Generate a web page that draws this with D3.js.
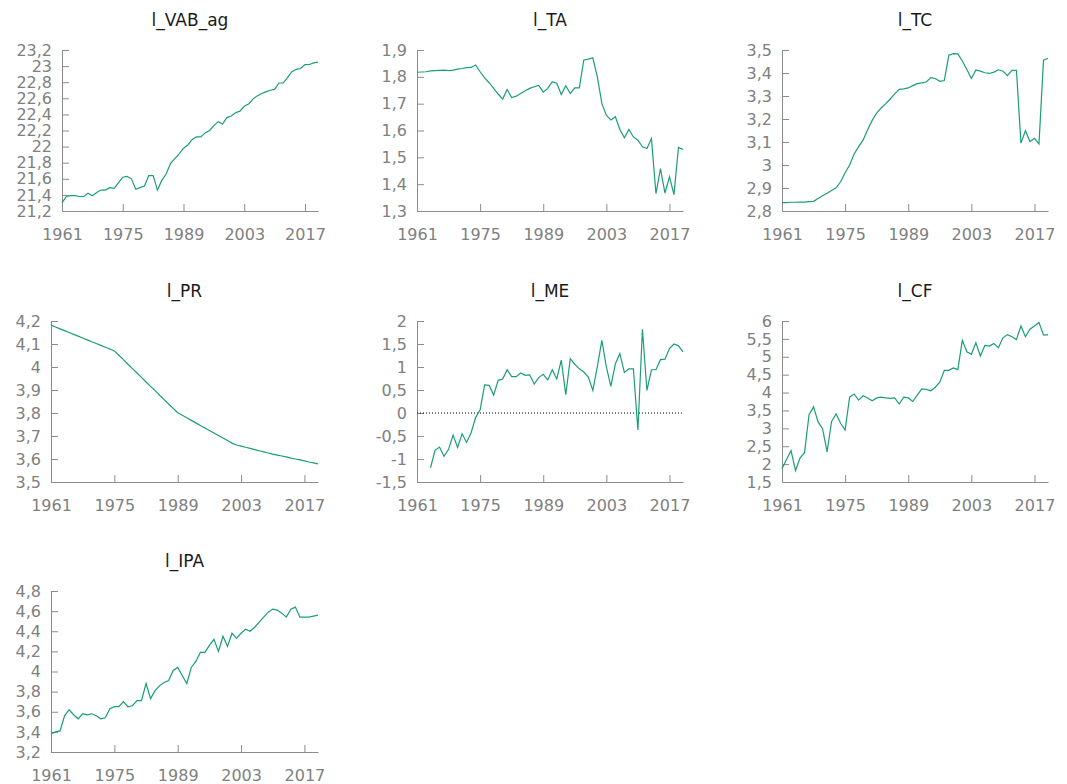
<!DOCTYPE html>
<html>
<head>
<meta charset="utf-8">
<script src="https://cdn.jsdelivr.net/npm/d3@7"></script>
<style>
    body { margin: 0; background: #fff; }
    svg { display: block; }
    svg text { font-family: "DejaVu Sans", sans-serif; }
    .tick text { fill: #808080; font-size: 16px; }
    .domain, .tick line { stroke: #8c8c8c; }
    .title { font-size: 17px; fill: #1a1a1a; }
</style>
</head>
<body>
<svg id="chart" width="1067" height="784"></svg>
<script>
// Years
const firstYear = 1961;
const lastYear = 2020;
const xTicks = [1961, 1975, 1989, 2003, 2017];

// Series (one value per year, 1961-2020)
const vabAg = [21.30, 21.38, 21.39, 21.39, 21.38, 21.38, 21.42, 21.39, 21.43, 21.46,
    21.46, 21.49, 21.48, 21.55, 21.62, 21.63, 21.60, 21.47, 21.49, 21.51,
    21.64, 21.64, 21.46, 21.58, 21.66, 21.79, 21.85, 21.91, 21.98, 22.02,
    22.09, 22.12, 22.12, 22.17, 22.20, 22.26, 22.31, 22.28, 22.36, 22.38,
    22.42, 22.44, 22.50, 22.53, 22.59, 22.63, 22.66, 22.68, 22.70, 22.71,
    22.79, 22.79, 22.86, 22.93, 22.96, 22.97, 23.02, 23.02, 23.04, 23.05];

const ta = [1.817, 1.818, 1.819, 1.822, 1.823, 1.824, 1.825, 1.823, 1.825, 1.829,
    1.831, 1.834, 1.835, 1.844, 1.819, 1.796, 1.778, 1.757, 1.736, 1.717,
    1.753, 1.723, 1.728, 1.738, 1.748, 1.757, 1.763, 1.768, 1.743, 1.757,
    1.782, 1.776, 1.734, 1.767, 1.738, 1.759, 1.759, 1.863, 1.866, 1.871,
    1.800, 1.701, 1.657, 1.639, 1.651, 1.604, 1.573, 1.604, 1.576, 1.564,
    1.539, 1.533, 1.570, 1.365, 1.458, 1.367, 1.427, 1.361, 1.537, 1.529];

const tc = [2.836, 2.836, 2.838, 2.838, 2.839, 2.839, 2.841, 2.842, 2.854, 2.866,
    2.877, 2.889, 2.901, 2.927, 2.966, 3.000, 3.048, 3.080, 3.109, 3.153,
    3.194, 3.226, 3.248, 3.267, 3.287, 3.309, 3.329, 3.331, 3.335, 3.345,
    3.354, 3.357, 3.361, 3.380, 3.376, 3.364, 3.367, 3.477, 3.484, 3.483,
    3.452, 3.415, 3.376, 3.413, 3.408, 3.401, 3.398, 3.404, 3.414, 3.408,
    3.389, 3.411, 3.411, 3.095, 3.149, 3.102, 3.116, 3.092, 3.456, 3.464];

const pr = [4.182, 4.174, 4.166, 4.158, 4.150, 4.142, 4.134, 4.126, 4.118, 4.110,
    4.102, 4.094, 4.086, 4.078, 4.070, 4.051, 4.032, 4.012, 3.993, 3.974,
    3.955, 3.935, 3.916, 3.897, 3.877, 3.858, 3.839, 3.820, 3.801, 3.790,
    3.779, 3.768, 3.757, 3.746, 3.735, 3.724, 3.713, 3.702, 3.691, 3.680,
    3.669, 3.661, 3.656, 3.651, 3.646, 3.641, 3.636, 3.631, 3.626, 3.621,
    3.617, 3.613, 3.609, 3.604, 3.600, 3.596, 3.592, 3.587, 3.583, 3.579];

// starts in 1964
const me = [null, null, null, -1.19, -0.81, -0.74, -0.94, -0.79, -0.48, -0.75,
    -0.45, -0.64, -0.43, -0.10, 0.07, 0.61, 0.60, 0.39, 0.71, 0.74,
    0.94, 0.79, 0.79, 0.87, 0.82, 0.83, 0.63, 0.77, 0.84, 0.72,
    0.94, 0.74, 1.15, 0.40, 1.18, 1.06, 0.96, 0.89, 0.78, 0.49,
    1.01, 1.58, 1.00, 0.58, 1.07, 1.29, 0.88, 0.96, 0.96, -0.37,
    1.82, 0.49, 0.94, 0.94, 1.16, 1.17, 1.40, 1.50, 1.46, 1.33];

const cf = [1.87, 2.13, 2.38, 1.82, 2.17, 2.32, 3.38, 3.60, 3.18, 2.99,
    2.34, 3.19, 3.40, 3.14, 2.95, 3.87, 3.96, 3.79, 3.91, 3.85,
    3.77, 3.85, 3.87, 3.85, 3.84, 3.85, 3.68, 3.87, 3.85, 3.75,
    3.93, 4.10, 4.09, 4.05, 4.15, 4.29, 4.62, 4.62, 4.69, 4.64,
    5.46, 5.14, 5.07, 5.39, 5.02, 5.32, 5.30, 5.37, 5.25, 5.53,
    5.62, 5.56, 5.48, 5.86, 5.56, 5.77, 5.86, 5.96, 5.61, 5.61];

const ipa = [3.38, 3.40, 3.41, 3.56, 3.62, 3.57, 3.53, 3.58, 3.57, 3.58,
    3.56, 3.53, 3.54, 3.63, 3.65, 3.65, 3.70, 3.65, 3.66, 3.71,
    3.71, 3.88, 3.73, 3.81, 3.86, 3.89, 3.91, 4.01, 4.04, 3.96,
    3.88, 4.04, 4.10, 4.19, 4.19, 4.26, 4.32, 4.20, 4.35, 4.25,
    4.38, 4.33, 4.38, 4.42, 4.40, 4.44, 4.49, 4.54, 4.59, 4.62,
    4.61, 4.58, 4.54, 4.62, 4.64, 4.54, 4.54, 4.54, 4.55, 4.56];

// Titles and y ticks [min, max, step]
const titles = ["l_VAB_ag", "l_TA", "l_TC", "l_PR", "l_ME", "l_CF", "l_IPA"];
const series = [vabAg, ta, tc, pr, me, cf, ipa];
const yTickSpecs = [
    [21.2, 23.2, 0.2],
    [1.3, 1.9, 0.1],
    [2.8, 3.5, 0.1],
    [3.5, 4.2, 0.1],
    [-1.5, 2, 0.5],
    [1.5, 6, 0.5],
    [3.2, 4.8, 0.2]
];

// Layout
const plotLeft = [62, 417, 782, 51, 417, 782, 51];
const colRight = [318, 683, 1048];
const rowTop = [50, 321, 591];
const plotH = 161;
const lineColor = "#1b9e77";

const svg = d3.select("#chart");
const years = d3.range(firstYear, lastYear + 1);
const fmt = v => String(v).replace(".", ",");

titles.forEach((title, i) => {
    const row = Math.floor(i / 3);
    const col = i % 3;
    const left = plotLeft[i];
    const right = colRight[col];
    const top = rowTop[row];
    const bottom = top + plotH;
    const [ymin, ymax, step] = yTickSpecs[i];

    const x = d3.scaleLinear().domain([firstYear, lastYear]).range([left, right]);
    const y = d3.scaleLinear().domain([ymin, ymax]).range([bottom, top]);
    const yTicks = d3.range(0, Math.round((ymax - ymin) / step) + 1)
        .map(k => +(ymin + k * step).toFixed(2));

    const g = svg.append("g");

    // Title
    g.append("text")
        .attr("class", "title")
        .attr("x", (left + right) / 2)
        .attr("y", top - 24)
        .attr("text-anchor", "middle")
        .text(title);

    // Axes, ticks inward
    g.append("g")
        .attr("transform", `translate(0,${bottom})`)
        .call(d3.axisBottom(x).tickValues(xTicks).tickFormat(d => d)
            .tickSizeInner(-7).tickSizeOuter(0).tickPadding(18));

    g.append("g")
        .attr("transform", `translate(${left},0)`)
        .call(d3.axisLeft(y).tickValues(yTicks).tickFormat(fmt)
            .tickSizeInner(-7).tickSizeOuter(0).tickPadding(10));

    g.selectAll("g").attr("font-family", null).attr("font-size", null);
    g.selectAll(".domain, .tick line").attr("stroke", null);

    // Zero line
    if (ymin < 0 && ymax > 0) {
        g.append("line")
            .attr("x1", left).attr("x2", right)
            .attr("y1", y(0)).attr("y2", y(0))
            .attr("stroke", "#000")
            .attr("stroke-width", 1)
            .attr("stroke-dasharray", "1,2");
    }

    // Series line
    const line = d3.line()
        .defined(d => d[1] != null)
        .x(d => x(d[0]))
        .y(d => y(d[1]));

    g.append("path")
        .datum(years.map((yr, k) => [yr, series[i][k]]))
        .attr("fill", "none")
        .attr("stroke", lineColor)
        .attr("stroke-width", 1.2)
        .attr("d", line);
});
</script>
</body>
</html>
